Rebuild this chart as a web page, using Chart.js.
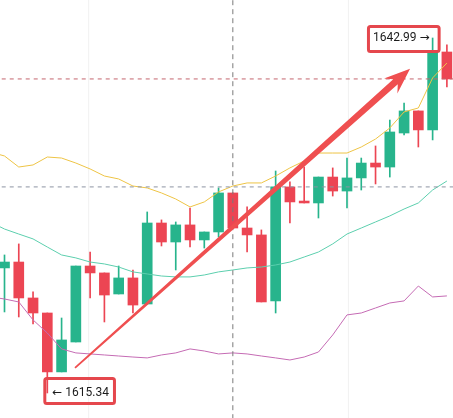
<!DOCTYPE html>
<html>
<head>
<meta charset="utf-8">
<script src="https://cdn.jsdelivr.net/npm/chart.js@4/dist/chart.umd.min.js"></script>
<style>
  html, body { margin: 0; padding: 0; background: #fff; }
  canvas { display: block; }
</style>
</head>
<body>
<canvas id="kline" width="453" height="418"></canvas>
<script>
// candles
const opens  = [1625.08,1625.54,1622.74,1621.57,1616.98,1619.31,1625.23,1624.69,1623.05,1624.30,1622.27,1628.58,1627.10,1628.43,1627.26,1627.88,1630.92,1628.19,1627.65,1622.51,1631.39,1630.29,1630.14,1632.16,1631.07,1632.09,1633.25,1632.94,1635.59,1637.31,1635.83,1641.90];
const highs  = [1626.09,1626.95,1623.21,1621.57,1621.18,1625.23,1626.32,1624.69,1625.23,1624.92,1629.44,1628.82,1628.66,1629.75,1627.88,1631.31,1630.92,1629.83,1628.04,1632.63,1631.78,1632.94,1632.16,1632.87,1633.64,1633.64,1634.58,1636.60,1637.93,1637.31,1642.99,1642.45];
const lows   = [1621.65,1621.26,1620.71,1615.34,1616.98,1619.31,1622.74,1620.87,1623.05,1621.57,1622.27,1626.79,1624.92,1626.71,1626.63,1627.49,1628.19,1626.32,1622.43,1621.57,1628.58,1630.14,1628.97,1630.68,1629.75,1631.15,1631.62,1632.16,1635.44,1634.50,1635.05,1639.17];
const closes = [1625.54,1622.74,1621.57,1616.98,1619.47,1625.23,1624.69,1622.97,1624.30,1622.19,1628.58,1627.10,1628.43,1627.26,1627.88,1630.92,1628.19,1627.65,1622.43,1631.39,1630.22,1630.14,1632.16,1631.07,1632.09,1633.25,1632.94,1635.67,1637.31,1635.83,1641.90,1639.80];

// indicator lines, starting one bar before the first visible candle
const maYellow = [1634.11,1633.80,1632.94,1633.10,1633.72,1633.64,1633.25,1632.79,1632.24,1632.01,1631.46,1631.31,1630.92,1630.45,1629.83,1630.22,1631.00,1631.46,1631.70,1631.70,1632.24,1632.87,1633.41,1634.03,1634.03,1634.03,1634.50,1635.12,1635.98,1637.23,1637.54,1639.88,1641.04];
const maTeal   = [1628.66,1628.11,1627.72,1627.34,1626.71,1626.09,1625.86,1625.54,1625.39,1625.15,1624.77,1624.61,1624.45,1624.38,1624.38,1624.53,1624.77,1624.92,1625.08,1625.15,1625.31,1625.54,1625.93,1626.32,1626.95,1627.72,1628.19,1628.66,1629.13,1629.67,1630.14,1631.15,1631.85];
const maPurple = [1622.82,1622.66,1622.43,1621.03,1620.01,1618.77,1618.46,1618.38,1618.30,1618.22,1618.14,1618.07,1618.30,1618.46,1618.77,1618.61,1618.38,1618.46,1618.38,1618.22,1618.07,1617.91,1618.14,1618.53,1619.86,1621.42,1621.57,1621.96,1622.35,1622.51,1623.67,1622.82,1622.90];

const timeGrid = [5.9, 24.1];
const crossIdx = 16, crossPrice = 1631.39;
const arrowFrom = {x: 4.94, y: 1617.3};
const arrowTo = {x: 28.42, y: 1640.6};

const UP = '#27b48c', DOWN = '#ec4553';
const xMin = -0.3153, xMax = 31.428, yMin = 1613.39, yMax = 1645.95;

const isUp = closes.map((c, i) => c >= opens[i]);
const candleColors = isUp.map(u => u ? UP : DOWN);

var hiIdx = highs.indexOf(Math.max(...highs));
var loIdx = lows.indexOf(Math.min(...lows));

function lineSet(vals, color) {
    return {
        type: 'line',
        data: vals.map((v, i) => ({x: i - 1, y: v})),
        borderColor: color,
        borderWidth: 1,
        pointRadius: 0,
        tension: 0,
        order: 1
    };
}

function dashSet(points, color, dash, order) {
    return {
        type: 'line',
        data: points,
        borderColor: color,
        borderWidth: 1,
        borderDash: dash,
        pointRadius: 0,
        order: order
    };
}

const overlay = {
    id: 'overlay',
    afterDatasetsDraw(chart) {
        const ctx = chart.ctx;
        const xs = chart.scales.x, ys = chart.scales.y;

        // hand drawn arrow
        var x1 = xs.getPixelForValue(arrowFrom.x), y1 = ys.getPixelForValue(arrowFrom.y);
        var x2 = xs.getPixelForValue(arrowTo.x), y2 = ys.getPixelForValue(arrowTo.y);
        var len = Math.hypot(x2 - x1, y2 - y1);
        var ux = (x2 - x1) / len, uy = (y2 - y1) / len;
        var nx = -uy, ny = ux;
        var headL = 26, headW = 10;
        var bx = x2 - ux * headL * 0.75, by = y2 - uy * headL * 0.75;
        ctx.save();
        ctx.fillStyle = '#ef4f50';
        ctx.beginPath();
        ctx.moveTo(x1 + nx * 0.9, y1 + ny * 0.9);
        ctx.lineTo(bx + nx * 3.4, by + ny * 3.4);
        ctx.lineTo(x2 - ux * headL + nx * headW, y2 - uy * headL + ny * headW);
        ctx.lineTo(x2, y2);
        ctx.lineTo(x2 - ux * headL - nx * headW, y2 - uy * headL - ny * headW);
        ctx.lineTo(bx - nx * 3.4, by - ny * 3.4);
        ctx.lineTo(x1 - nx * 0.9, y1 - ny * 0.9);
        ctx.closePath();
        ctx.fill();

        // high / low markers
        ctx.font = '12px Roboto, "DejaVu Sans", sans-serif';
        ctx.fillStyle = '#1b1b1b';
        ctx.textBaseline = 'middle';

        var hx = xs.getPixelForValue(hiIdx) - 3, hy = ys.getPixelForValue(highs[hiIdx]);
        var hiText = highs[hiIdx].toFixed(2) + ' \u2192';
        var hw = ctx.measureText(hiText).width;
        ctx.textAlign = 'right';
        ctx.fillText(hiText, hx, hy);

        var lx = xs.getPixelForValue(loIdx) + 5, ly = ys.getPixelForValue(lows[loIdx]);
        var loText = '\u2190 ' + lows[loIdx].toFixed(2);
        var lw = ctx.measureText(loText).width;
        ctx.textAlign = 'left';
        ctx.fillText(loText, lx, ly);

        // red boxes drawn round the markers
        ctx.strokeStyle = '#e5474d';
        ctx.lineWidth = 3;
        ctx.beginPath();
        ctx.roundRect(hx - hw - 6 + 1.5, hy - 13 + 1.5, hw + 17 - 3, 28 - 3, 2);
        ctx.stroke();
        ctx.beginPath();
        ctx.roundRect(lx - 9 + 1.5, ly - 16 + 1.5, lw + 16 - 3, 28 - 3, 2);
        ctx.stroke();
        ctx.restore();
    }
};

const gridSets = timeGrid.map(v => dashSet([{x: v, y: yMin - 5}, {x: v, y: yMax + 5}], '#f1f1f1', [], 9));

new Chart(document.getElementById('kline').getContext('2d'), {
    type: 'bar',
    data: {
        datasets: [
            {
                data: opens.map((o, i) => ({x: i, y: [lows[i], highs[i]]})),
                backgroundColor: candleColors,
                barThickness: 1,
                grouped: false,
                order: 3
            },
            {
                data: opens.map((o, i) => ({x: i, y: [o, closes[i]]})),
                backgroundColor: candleColors,
                barThickness: 10,
                grouped: false,
                order: 2
            },
            lineSet(maYellow, '#eec445'),
            lineSet(maTeal, '#5ccfae'),
            lineSet(maPurple, '#c56bb4'),
            dashSet([{x: xMin - 1, y: closes[closes.length - 1]}, {x: xMax + 1, y: closes[closes.length - 1]}], '#c4646e', [4, 4], 0),
            dashSet([{x: xMin - 1, y: crossPrice}, {x: xMax + 1, y: crossPrice}], '#8c93a3', [4, 4], 0),
            dashSet([{x: crossIdx, y: yMin - 5}, {x: crossIdx, y: yMax + 5}], '#7a7a7a', [5, 4], 0)
        ].concat(gridSets)
    },
    options: {
        responsive: false,
        animation: false,
        layout: { padding: 0 },
        plugins: { legend: { display: false }, tooltip: { enabled: false } },
        scales: {
            x: {
                type: 'linear',
                display: false,
                min: xMin,
                max: xMax,
                offset: false
            },
            y: {
                display: false,
                min: yMin,
                max: yMax
            }
        }
    },
    plugins: [overlay]
});
</script>
</body>
</html>
